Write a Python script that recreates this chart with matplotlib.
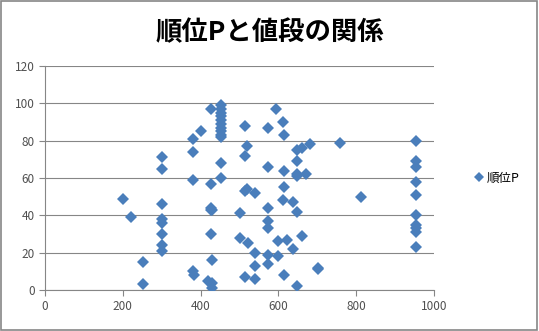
import matplotlib
matplotlib.use("Agg")
import matplotlib.pyplot as plt
from matplotlib.patches import Rectangle

plt.rcParams['font.family'] = ['Noto Sans CJK JP', 'DejaVu Sans']

# ── data (price vs rank points) ───────────────────────────────────
price = [200, 220, 252, 252,
         300, 300, 300, 300, 300, 300, 300, 300,
         380, 380, 380, 380, 382, 400,
         428, 428, 428, 430, 428, 428, 430, 420, 430, 430,
         452, 452, 452, 452, 452, 452, 452, 452, 452, 452, 452, 452,
         502, 502, 515, 515, 515, 515, 518, 518, 522,
         541, 541, 541, 541,
         572, 572, 572, 572, 572, 572, 572, 593, 600, 600,
         611, 615, 615, 615, 613, 615, 621, 637, 637,
         647, 647, 647, 647, 647, 649, 660, 660, 672, 682,
         701, 703, 759, 813,
         953, 953, 953, 953, 953, 953, 953, 953, 953, 953]
rank = [49, 39, 15, 3,
        71, 65, 46, 38, 36, 30, 24, 21,
        81, 74, 59, 10, 8, 85,
        97, 57, 44, 43, 43, 30, 16, 5, 4, 1,
        99, 97, 95, 93, 91, 89, 87, 85, 83, 82, 68, 60,
        41, 28, 88, 72, 53, 7, 77, 54, 25,
        52, 20, 13, 6,
        87, 66, 44, 37, 33, 19, 14, 97, 26, 18,
        90, 83, 64, 55, 48, 8, 27, 47, 22,
        75, 69, 62, 61, 42, 2, 76, 29, 62, 78,
        12, 11, 79, 50,
        80, 69, 66, 58, 51, 40, 35, 33, 31, 23]

xticks = [0, 200, 400, 600, 800, 1000]
yticks = [0, 20, 40, 60, 80, 100, 120]

# ── figure ────────────────────────────────────────────────────────
fig = plt.figure(figsize=(5.39, 3.31), dpi=100)
ax = fig.add_axes([45/539, 1-290/331, (434-45)/539, (290-66)/331])

ax.plot(price, rank, 'D', color='#4a7ebb', markersize=6.5,
        markeredgewidth=0, label='順位P', zorder=3)

ax.set_xlim(0, 1000)
ax.set_ylim(0, 120)
ax.set_xticks(xticks)
ax.set_yticks(yticks)
ax.tick_params(labelsize=8.5, colors='#868686', labelcolor='#505050',
               length=4, width=0.8)
ax.grid(axis='y', color='#868686', linewidth=0.8)
ax.set_axisbelow(True)
for s in ['top', 'right']:
    ax.spines[s].set_visible(False)
for s in ['left', 'bottom']:
    ax.spines[s].set_color('#868686')
    ax.spines[s].set_linewidth(0.8)

fig.text(270/539, 1-33/331, '順位Pと値段の関係', ha='center', va='center',
         fontsize=19, fontweight='bold')

ax.legend(loc='center left', bbox_to_anchor=(1.07, 0.5), frameon=False,
          fontsize=9, handletextpad=0.1, handlelength=1.0, markerscale=0.8)

fig.add_artist(Rectangle((0.002, 0.003), 0.994, 0.993, transform=fig.transFigure,
                         fill=False, edgecolor='#868686', linewidth=1.2))

fig.savefig('out.png', dpi=100)
